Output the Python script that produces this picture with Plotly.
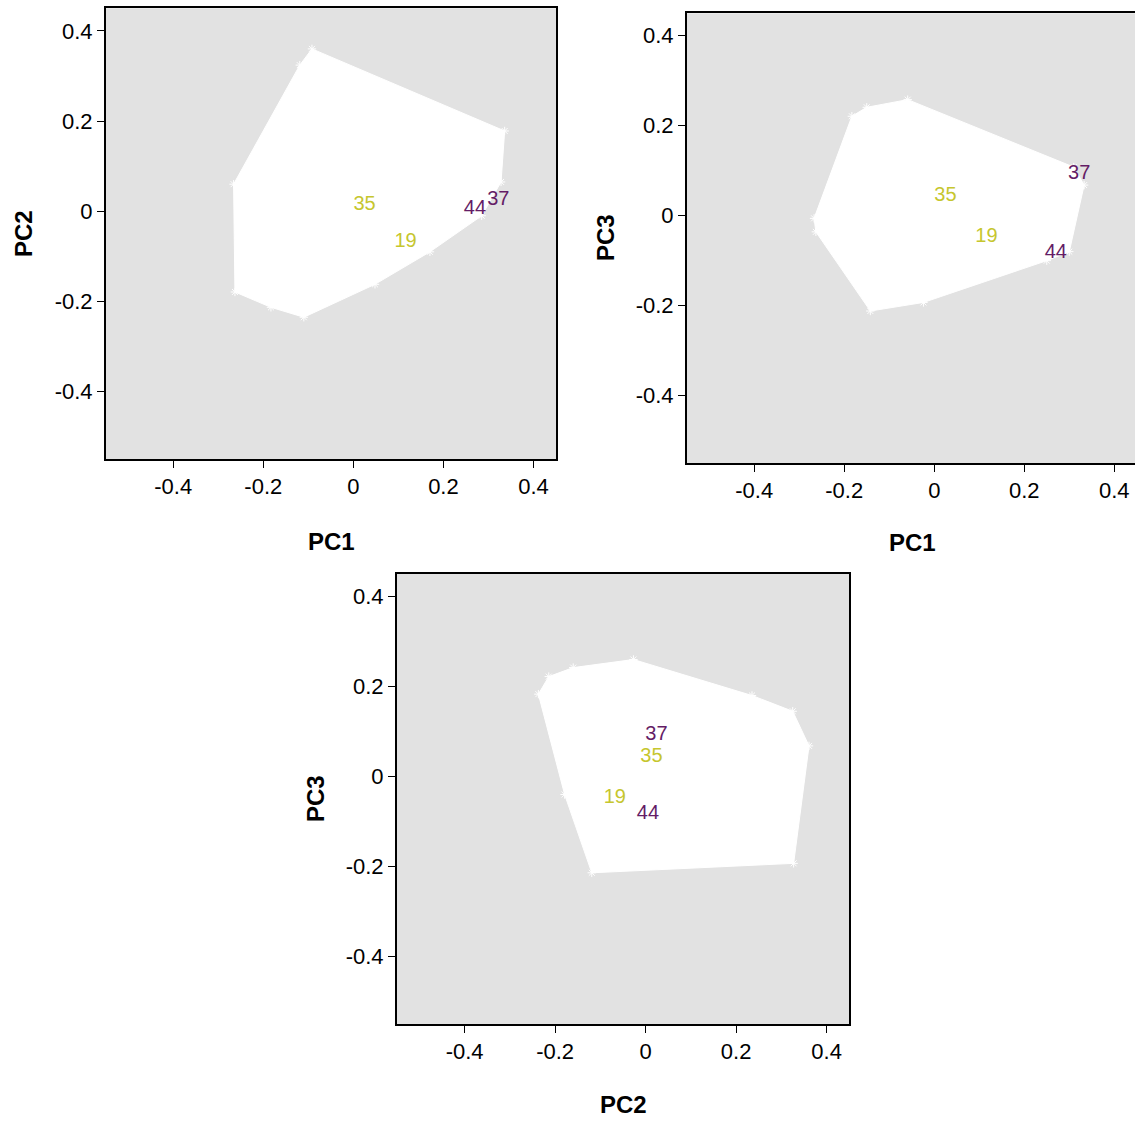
import plotly.graph_objects as go

# ---- data ----
labels = ["35", "19", "44", "37"]
label_colors = ["#C6C62E", "#C6C62E", "#641C66", "#641C66"]
pc1 = [0.025, 0.116, 0.270, 0.322]
pc2 = [0.013, -0.068, 0.005, 0.024]
pc3 = [0.044, -0.048, -0.083, 0.092]

# convex hull vertices (PC1 vs PC2)
hull12_x = [-0.092, 0.336, 0.328, 0.285, 0.170, 0.048, -0.110, -0.183, -0.263, -0.266, -0.119]
hull12_y = [0.360, 0.178, 0.065, -0.010, -0.090, -0.162, -0.235, -0.213, -0.179, 0.060, 0.324]
# (PC1 vs PC3)
hull13_x = [-0.059, 0.310, 0.333, 0.300, 0.250, -0.024, -0.142, -0.263, -0.267, -0.183, -0.150]
hull13_y = [0.258, 0.108, 0.068, -0.080, -0.100, -0.193, -0.212, -0.036, -0.006, 0.221, 0.241]
# (PC2 vs PC3)
hull23_x = [-0.027, 0.235, 0.325, 0.361, 0.327, -0.119, -0.179, -0.237, -0.214, -0.160]
hull23_y = [0.260, 0.180, 0.145, 0.068, -0.193, -0.214, -0.040, 0.183, 0.222, 0.242]

tick_vals = [-0.4, -0.2, 0, 0.2, 0.4]
tick_text = ["-0.4", "-0.2", "0", "0.2", "0.4"]

W, H = 1135, 1122
FONT = "Liberation Sans, Arial, sans-serif"

fig = go.Figure()

panels = [
    ("x", "y", hull12_x, hull12_y, pc1, pc2),
    ("x2", "y2", hull13_x, hull13_y, pc1, pc3),
    ("x3", "y3", hull23_x, hull23_y, pc2, pc3),
]
for xa, ya, hx, hy, lx, ly in panels:
    fig.add_trace(go.Scatter(
        x=hx + [hx[0]], y=hy + [hy[0]], xaxis=xa, yaxis=ya,
        mode="lines", fill="toself", fillcolor="white",
        line=dict(color="white", width=1), hoverinfo="skip", showlegend=False))
    fig.add_trace(go.Scatter(
        x=hx, y=hy, xaxis=xa, yaxis=ya, mode="markers",
        marker=dict(symbol="asterisk-open", size=7,
                    line=dict(color="white", width=1), color="white"),
        hoverinfo="skip", showlegend=False))
    fig.add_trace(go.Scatter(
        x=lx, y=ly, xaxis=xa, yaxis=ya, mode="text", text=labels,
        textposition="middle center",
        textfont=dict(family=FONT, size=20, color=label_colors),
        hoverinfo="skip", showlegend=False))


def px_x(a, b):
    return [a / W, min(b / W, 1.0)]


def px_y(top, bottom):
    return [1 - bottom / H, 1 - top / H]


axis_common = dict(
    showline=True, linecolor="black", linewidth=1.5,
    ticks="outside", ticklen=7, tickwidth=1.3, tickcolor="black",
    showgrid=False, zeroline=False,
    tickmode="array", tickvals=tick_vals, ticktext=tick_text,
    tickfont=dict(family=FONT, size=22, color="black"),
    fixedrange=True,
)

layout = dict(
    width=W, height=H,
    margin=dict(l=0, r=0, t=0, b=0),
    paper_bgcolor="white", plot_bgcolor="#E2E2E2",
    showlegend=False,
    xaxis=dict(domain=px_x(105.7, 556), range=[-0.55, 0.45], anchor="y", mirror=True, **axis_common),
    yaxis=dict(domain=px_y(8.3, 459.3), range=[-0.55, 0.45], anchor="x", mirror=True, **axis_common),
    xaxis2=dict(domain=px_x(686.7, 1135), range=[-0.55, 0.446], anchor="y2", mirror=True, **axis_common),
    yaxis2=dict(domain=px_y(13.3, 463), range=[-0.55, 0.45], anchor="x2", mirror=False, **axis_common),
    xaxis3=dict(domain=px_x(396.7, 849.3), range=[-0.55, 0.45], anchor="y3", mirror=True, **axis_common),
    yaxis3=dict(domain=px_y(574, 1024), range=[-0.55, 0.45], anchor="x3", mirror=True, **axis_common),
)
fig.update_layout(**layout)

title_font = dict(family=FONT, size=24, color="black")
titles = [
    ("PC1", 331, 541, 0), ("PC2", 24, 234, -90),
    ("PC1", 912, 542, 0), ("PC3", 605, 238, -90),
    ("PC2", 623, 1104, 0), ("PC3", 315, 799, -90),
]
for txt, xp, yp, ang in titles:
    fig.add_annotation(text="<b>%s</b>" % txt, x=xp / W, y=1 - yp / H,
                       xref="paper", yref="paper", showarrow=False,
                       xanchor="center", yanchor="middle", textangle=ang,
                       font=title_font)

fig.write_html("out.html",
               config={"displayModeBar": False},
               post_script="document.body.style.margin='0';document.body.style.overflow='hidden';")
